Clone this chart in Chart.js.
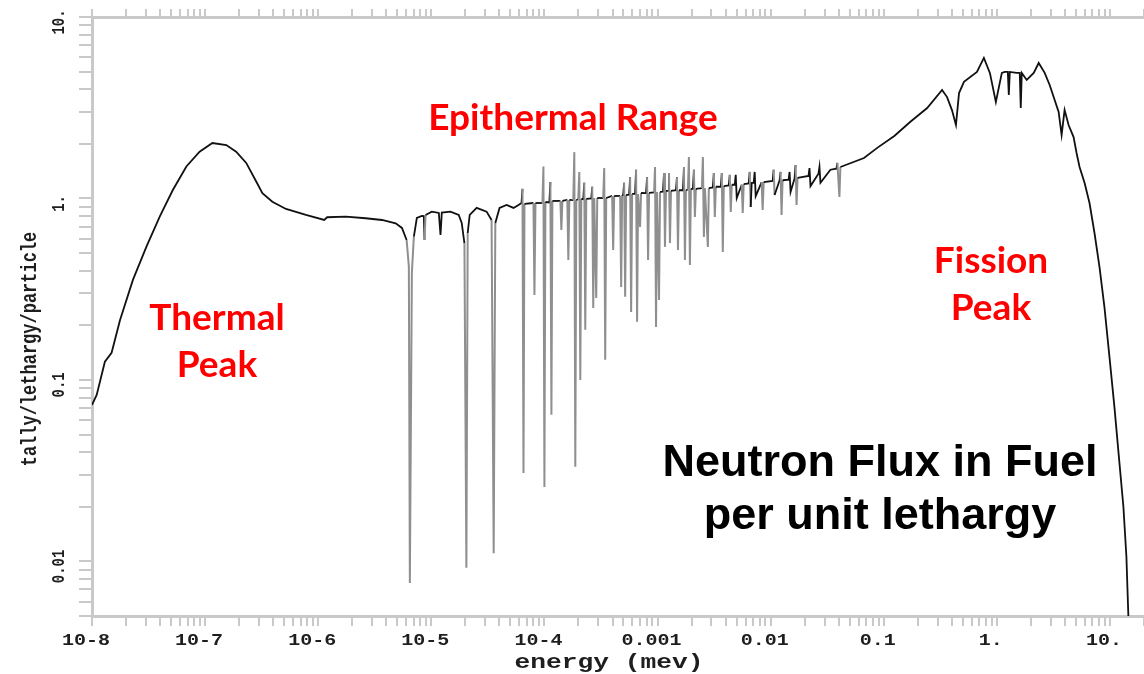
<!DOCTYPE html>
<html>
<head>
<meta charset="utf-8">
<title>Neutron Flux in Fuel</title>
<script src="https://cdn.jsdelivr.net/npm/chart.js@4.4.1/dist/chart.umd.min.js"></script>
<style>
    html, body { margin: 0; padding: 0; background: #fff; overflow: hidden; }
    #wrap { position: relative; width: 1144px; height: 674px; }
</style>
</head>
<body>
<div id="wrap"><canvas id="fluxChart"></canvas></div>
<script>
// energy (mev) / tally per unit lethargy
const thermalEnergy = [1.00e-8, 1.10e-8, 1.30e-8, 1.49e-8, 1.77e-8, 2.30e-8, 3.03e-8, 3.97e-8, 5.17e-8, 6.83e-8,
    8.94e-8, 1.16e-7, 1.54e-7, 1.88e-7, 2.31e-7, 2.83e-7, 3.21e-7, 3.93e-7, 5.19e-7, 7.79e-7,
    1.13e-6, 1.20e-6, 1.75e-6, 2.63e-6, 3.66e-6, 4.84e-6, 5.50e-6, 6.05e-6];
const thermalFlux = [0.0728, 0.0827, 0.126, 0.141, 0.214, 0.356, 0.543, 0.794, 1.11, 1.50,
    1.81, 2.02, 1.97, 1.81, 1.57, 1.24, 1.07, 0.960, 0.875, 0.811,
    0.761, 0.788, 0.794, 0.778, 0.761, 0.730, 0.688, 0.590];

const resonanceEnergy = [6.33e-6, 6.46e-6, 6.73e-6, 7.01e-6, 7.45e-6, 8.25e-6, 8.59e-6, 8.71e-6, 8.89e-6, 1.01e-5,
    1.165e-5, 1.206e-5, 1.238e-5, 1.476e-5, 1.747e-5, 1.857e-5, 1.962e-5, 2.042e-5, 2.097e-5, 2.184e-5,
    2.518e-5, 3.08e-5, 3.41e-5, 3.56e-5, 3.68e-5, 4.01e-5, 4.63e-5, 5.33e-5, 5.90e-5, 6.27e-5,
    6.40e-5, 6.53e-5, 6.66e-5, 8.00e-5, 8.16e-5, 8.33e-5, 9.60e-5, 9.80e-5, 1.000e-4, 1.020e-4,
    1.106e-4, 1.129e-4, 1.153e-4, 1.176e-4, 1.384e-4, 1.412e-4, 1.441e-4, 1.594e-4, 1.627e-4, 1.661e-4,
    1.80e-4, 1.838e-4, 1.875e-4, 1.913e-4, 1.99e-4, 2.034e-4, 2.076e-4, 2.118e-4, 2.205e-4, 2.251e-4,
    2.297e-4, 2.344e-4, 2.595e-4, 2.648e-4, 2.702e-4, 2.757e-4, 2.871e-4, 2.931e-4, 3.31e-4, 3.378e-4,
    3.447e-4, 3.517e-4, 3.972e-4, 4.053e-4, 4.136e-4, 4.673e-4, 4.769e-4, 4.866e-4, 4.97e-4, 5.068e-4,
    5.172e-4, 5.278e-4, 5.61e-4, 5.724e-4, 5.841e-4, 5.961e-4, 6.33e-4, 6.462e-4, 6.595e-4, 6.730e-4,
    7.009e-4, 7.152e-4, 7.92e-4, 8.083e-4, 8.249e-4, 8.418e-4, 9.32e-4, 9.506e-4, 9.701e-4, 9.900e-4,
    1.031e-3, 1.052e-3, 1.118e-3, 1.141e-3, 1.164e-3, 1.188e-3, 1.238e-3, 1.263e-3, 1.288e-3, 1.315e-3,
    1.455e-3, 1.485e-3, 1.516e-3, 1.547e-3, 1.678e-3, 1.712e-3, 1.747e-3, 1.783e-3, 1.856e-3, 1.894e-3,
    1.933e-3, 1.973e-3, 2.055e-3, 2.097e-3, 2.140e-3, 2.184e-3, 2.468e-3, 2.518e-3, 2.569e-3, 2.622e-3,
    2.786e-3, 2.843e-3, 3.083e-3, 3.146e-3, 3.210e-3, 3.276e-3, 3.627e-3, 3.701e-3, 3.777e-3, 3.854e-3,
    4.265e-3, 4.352e-3, 4.441e-3, 4.532e-3, 4.816e-3, 4.914e-3, 5.015e-3, 5.552e-3, 5.666e-3, 5.782e-3,
    6.40e-3, 6.531e-3, 6.665e-3, 6.801e-3, 7.08e-3, 7.228e-3, 7.376e-3, 8.33e-3, 8.50e-3, 8.68e-3,
    1.042e-2, 1.063e-2, 1.084e-2, 1.20e-2, 1.224e-2, 1.249e-2, 1.275e-2, 1.442e-2, 1.471e-2, 1.501e-2,
    1.628e-2, 1.661e-2, 1.695e-2, 1.729e-2, 2.162e-2, 2.206e-2, 2.251e-2, 2.648e-2, 2.702e-2, 2.757e-2,
    3.378e-2, 3.815e-2, 3.893e-2, 4.055e-2, 4.137e-2];
const resonanceFlux = [0.421, 0.00761, 0.389, 0.616, 0.781, 0.801, 0.800, 0.590, 0.811, 0.846,
    0.832, 0.629, 0.835, 0.846, 0.811, 0.733, 0.568, 0.00921, 0.645, 0.811,
    0.887, 0.846, 0.761, 0.0111, 0.733, 0.887, 0.921, 0.887, 0.921, 0.944,
    1.13, 0.0307, 0.933, 0.944, 0.294, 0.944, 0.944, 1.50, 0.0257, 0.956,
    0.950, 1.23, 0.0642, 0.969, 0.969, 0.671, 0.969, 0.981, 0.458, 0.981,
    0.980, 1.80, 0.0332, 0.981, 0.990, 1.40, 0.100, 0.994, 0.990, 1.22,
    0.189, 0.994, 1.000, 1.16, 0.249, 1.006, 0.283, 1.006, 1.006, 1.47,
    0.129, 1.006, 1.032, 0.520, 1.032, 1.032, 0.325, 1.045, 1.045, 1.22,
    0.287, 1.045, 1.050, 1.31, 0.237, 1.059, 1.060, 1.44, 0.209, 1.059,
    0.697, 1.072, 1.070, 1.31, 0.458, 1.072, 1.080, 1.49, 0.196, 1.086,
    0.276, 1.086, 1.090, 1.38, 0.541, 1.100, 1.100, 1.38, 0.568, 1.100,
    1.110, 1.31, 0.520, 1.11, 1.110, 1.49, 0.458, 1.11, 1.120, 1.69,
    0.430, 1.13, 1.130, 1.44, 0.791, 1.13, 1.140, 1.69, 0.614, 1.14,
    0.541, 1.14, 1.150, 1.38, 0.791, 1.16, 1.160, 1.38, 0.507, 1.17,
    1.180, 1.35, 0.843, 1.19, 1.190, 1.35, 1.006, 1.19, 0.832, 1.20,
    1.210, 1.40, 0.898, 1.22, 1.220, 1.40, 1.03, 1.23, 0.864, 1.23,
    1.250, 1.44, 1.045, 1.260, 1.40, 0.811, 1.26, 1.270, 1.40, 1.086,
    1.290, 1.53, 0.921, 1.30, 1.330, 1.47, 1.17, 1.370, 1.49, 1.22,
    1.44, 1.460, 1.57, 1.02, 1.49];

const fastEnergy = [6.69e-2, 8.76e-2, 0.124, 0.171, 0.242, 0.328, 0.363, 0.401, 0.435, 0.463,
    0.512, 0.667, 0.768, 0.868, 0.980, 1.107, 1.176, 1.250, 1.276, 1.302,
    1.500, 1.594, 1.627, 1.661, 1.837, 2.119, 2.344, 2.648, 2.931, 3.179,
    3.518, 3.738, 3.972, 4.309, 4.769, 5.068, 5.386, 5.961, 6.597, 7.300,
    8.08, 8.94, 9.90, 10.95, 12.13, 13.15, 13.98, 14.55];
const fastFlux = [1.67, 1.90, 2.21, 2.64, 3.15, 3.96, 3.62, 3.07, 2.54, 3.81,
    4.39, 4.98, 5.95, 4.92, 3.40, 4.92, 4.98, 4.98, 3.72, 4.98,
    4.92, 4.92, 3.15, 4.92, 4.50, 4.92, 5.58, 4.92, 4.22, 3.62,
    3.00, 2.24, 3.07, 2.54, 2.18, 1.78, 1.49, 1.22, 0.944, 0.645,
    0.420, 0.252, 0.134, 0.0710, 0.0349, 0.0200, 0.0106, 0.0050];

// axes
const xDecades = [1e-8, 1e-7, 1e-6, 1e-5, 1e-4, 1e-3, 1e-2, 1e-1, 1, 10];
const xTickLabels = ['10-8', '10-7', '10-6', '10-5', '10-4', '0.001', '0.01', '0.1', '1.', '10.'];
const yDecades = [0.001, 0.01, 0.1, 1, 10];
const yTickLabels = ['', '0.01', '0.1', '1.', '10.'];
const X_MIN = 1e-8, X_MAX = 20;
const Y_MIN = 0.005, Y_MAX = 10;

function minorTicks(decades, lo, hi) {
    const out = [];
    decades.forEach(d => {
        for (let k = 1; k <= 9; k++) {
            const v = +(d * k).toPrecision(3);
            if (v >= lo * 0.999 && v <= hi * 1.001) out.push({ value: v });
        }
    });
    return out;
}

const toPoints = (xs, ys) => xs.map((x, i) => ({ x: x, y: ys[i] }));
const fluxData = [].concat(
    toPoints(thermalEnergy, thermalFlux),
    toPoints(resonanceEnergy, resonanceFlux),
    toPoints(fastEnergy, fastFlux)
);

// resonance spikes are near-vertical jumps below 0.1 mev, drawn lighter
const isSpike = c => c.p0.parsed.x < 0.1 &&
    Math.abs(c.p1.y - c.p0.y) > 25 && Math.abs(c.p1.x - c.p0.x) < 3.5;

const AXIS_GRAY = '#c9c9c9';
const TEXT_DARK = '#1e1e1e';
const STRETCH = 1.25; // plot text is a bit wide

function wideText(ctx, text, x, y, font, angle) {
    ctx.save();
    ctx.translate(x, y);
    ctx.scale(STRETCH, 1);
    if (angle) ctx.rotate(angle);
    ctx.font = font;
    ctx.fillStyle = TEXT_DARK;
    ctx.textAlign = 'center';
    ctx.textBaseline = 'middle';
    ctx.fillText(text, 0, 0);
    ctx.restore();
}

const axisText = {
    id: 'axisText',
    afterDraw(chart) {
        const ctx = chart.ctx;
        const xs = chart.scales.x, ys = chart.scales.y;
        xDecades.forEach((v, i) => {
            wideText(ctx, xTickLabels[i], xs.getPixelForValue(v) - 6, 641, 'bold 16px "Liberation Mono"');
        });
        yDecades.forEach((v, i) => {
            if (!yTickLabels[i] || v < Y_MIN) return;
            wideText(ctx, yTickLabels[i], 60, ys.getPixelForValue(v) + 5, 'bold 14px "Liberation Mono"', -Math.PI / 2);
        });
        wideText(ctx, 'tally/lethargy/particle', 31, 349, 'bold 17px "Liberation Mono"', -Math.PI / 2);
        wideText(ctx, 'energy (mev)', 609, 663, 'bold 21px "Liberation Mono"');
    }
};

const notes = {
    id: 'notes',
    afterDraw(chart) {
        const ctx = chart.ctx;
        ctx.save();
        ctx.textAlign = 'center';
        ctx.textBaseline = 'alphabetic';
        ctx.fillStyle = '#ff0000';
        ctx.font = 'bold 37px Lato';
        ctx.fillText('Epithermal Range', 573, 130);
        ctx.fillText('Thermal', 217, 330);
        ctx.fillText('Peak', 217, 377);
        ctx.fillText('Fission', 991, 273);
        ctx.fillText('Peak', 991, 320);
        ctx.fillStyle = '#000';
        ctx.font = 'bold 45px "Liberation Sans"';
        ctx.fillText('Neutron Flux in Fuel', 880, 476);
        ctx.fillText('per unit lethargy', 880, 529);
        ctx.restore();
    }
};

const logAxis = (position, extra) => Object.assign({
    type: 'logarithmic',
    position: position,
    ticks: { display: false },
    grid: { drawOnChartArea: false, drawTicks: true, color: AXIS_GRAY, lineWidth: 2 },
    border: { display: true, color: AXIS_GRAY, width: 3 }
}, extra);

const ctx = document.getElementById('fluxChart').getContext('2d');
new Chart(ctx, {
    type: 'line',
    data: {
        datasets: [{
            data: fluxData,
            borderColor: '#111',
            borderWidth: 1.8,
            pointRadius: 0,
            tension: 0,
            fill: false,
            segment: {
                borderColor: c => isSpike(c) ? '#8f8f8f' : undefined,
                borderWidth: c => isSpike(c) ? 2 : undefined
            }
        }]
    },
    options: {
        responsive: true,
        maintainAspectRatio: false,
        animation: false,
        layout: { padding: 0 },
        plugins: { legend: { display: false }, tooltip: { enabled: false } },
        scales: {
            x: logAxis('bottom', {
                min: X_MIN, max: X_MAX,
                afterBuildTicks: a => { a.ticks = minorTicks(xDecades, X_MIN, X_MAX); },
                afterFit: a => { a.height = 58; },
                grid: { drawOnChartArea: false, color: AXIS_GRAY, lineWidth: 2, tickLength: 10 }
            }),
            xTop: logAxis('top', {
                min: X_MIN, max: X_MAX,
                afterBuildTicks: a => { a.ticks = minorTicks(xDecades, X_MIN, X_MAX); },
                afterFit: a => { a.height = 17; },
                grid: { drawOnChartArea: false, color: AXIS_GRAY, lineWidth: 2, tickLength: 8 }
            }),
            y: logAxis('left', {
                min: Y_MIN, max: Y_MAX,
                afterBuildTicks: a => { a.ticks = minorTicks(yDecades, Y_MIN, Y_MAX); },
                afterFit: a => { a.width = 92; },
                grid: { drawOnChartArea: false, color: AXIS_GRAY, lineWidth: 2, tickLength: 13 }
            })
        }
    },
    plugins: [axisText, notes]
});
</script>
</body>
</html>
